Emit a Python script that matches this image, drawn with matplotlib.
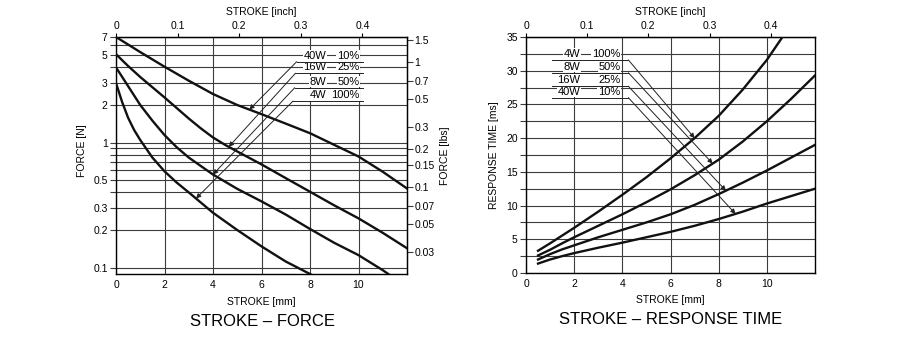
import numpy as np
import matplotlib.pyplot as plt
from matplotlib.ticker import NullFormatter, NullLocator

plt.rcParams['font.family'] = ['Liberation Sans', 'DejaVu Sans']

# ---- STROKE - FORCE data (force in N vs stroke in mm) ----
f40_mm = [0, 1, 2, 3, 4, 5, 6, 7, 8, 9, 10, 11, 12]
f40_n = [7.0, 5.3, 4.05, 3.13, 2.45, 2.0, 1.69, 1.42, 1.19, 0.96, 0.775, 0.585, 0.43]
f16_mm = [0, 0.5, 1, 2, 3, 3.5, 4, 4.5, 5, 6, 7, 8, 9, 10, 11, 12]
f16_n = [5.1, 4.1, 3.35, 2.3, 1.56, 1.30, 1.10, 0.96, 0.85, 0.67, 0.52, 0.405, 0.315, 0.248, 0.19, 0.143]
f8_mm = [0, 0.5, 1, 1.5, 2, 2.5, 3, 4, 5, 6, 7, 8, 9, 10, 11, 11.3]
f8_n = [4.0, 2.83, 2.0, 1.5, 1.15, 0.92, 0.76, 0.556, 0.427, 0.339, 0.266, 0.204, 0.158, 0.126, 0.0955, 0.087]
f4_mm = [0, 0.25, 0.5, 0.75, 1, 1.5, 2, 2.5, 3, 4, 5, 6, 7, 8, 8.3]
f4_n = [3.0, 2.12, 1.58, 1.26, 1.05, 0.76, 0.59, 0.48, 0.40, 0.275, 0.20, 0.148, 0.112, 0.089, 0.083]

force_power = ['40W', '16W', '8W', '4W']
force_duty = ['10%', '25%', '50%', '100%']
force_label_y = [4.44, 3.59, 2.75, 2.15]
force_lead_x0 = [7.45, 7.4, 7.37, 7.3]
force_arrow_x = [5.5, 4.65, 4.0, 3.3]

force_yticks = [0.1, 0.2, 0.3, 0.5, 1, 2, 3, 5, 7]
force_yticklabels = ['0.1', '0.2', '0.3', '0.5', '1', '2', '3', '5', '7']
force_minor = [0.1, 0.2, 0.3, 0.4, 0.5, 0.6, 0.7, 0.8, 0.9, 1, 2, 3, 4, 5, 6, 7]
lbs_ticks = [0.03, 0.05, 0.07, 0.1, 0.15, 0.2, 0.3, 0.5, 0.7, 1, 1.5]
lbs_labels = ['0.03', '0.05', '0.07', '0.1', '0.15', '0.2', '0.3', '0.5', '0.7', '1', '1.5']

# ---- STROKE - RESPONSE TIME data (ms vs mm) ----
rt4_mm = [0.5, 1, 2, 3, 4, 5, 6, 7, 8, 9, 10, 10.65]
rt4_ms = [3.3, 4.4, 6.7, 9.1, 11.6, 14.2, 17.0, 20.0, 23.3, 27.2, 31.6, 35.0]
rt_mm = [0.5, 1, 1.5, 2, 3, 4, 5, 6, 7, 8, 9, 10, 11, 12]
rt8_ms = [2.6, 3.45, 4.4, 5.3, 7.0, 8.7, 10.5, 12.4, 14.5, 16.8, 19.5, 22.5, 25.8, 29.3]
rt16_ms = [2.0, 2.8, 3.5, 4.1, 5.3, 6.4, 7.5, 8.7, 10.1, 11.7, 13.4, 15.2, 17.1, 19.0]
rt40_ms = [1.4, 2.0, 2.5, 2.95, 3.75, 4.5, 5.3, 6.1, 7.0, 8.0, 9.1, 10.3, 11.4, 12.5]

rt_power = ['4W', '8W', '16W', '40W']
rt_duty = ['100%', '50%', '25%', '10%']
rt_label_y = [31.6, 29.7, 27.7, 26.0]
rt_arrow_x = [7.0, 7.75, 8.3, 8.7]

inch_ticks = [0, 0.1, 0.2, 0.3, 0.4]
inch_labels = ['0', '0.1', '0.2', '0.3', '0.4']
mm_ticks = [0, 2, 4, 6, 8, 10]

GRID = '#3c3c3c'
INK = '#111111'
FS = 7.5


def mm2in(x):
    return np.asarray(x) / 25.4


def in2mm(x):
    return np.asarray(x) * 25.4


def style_axes(ax):
    ax.set_xlim(0, 12)
    ax.set_xticks(mm_ticks)
    ax.grid(axis='x', which='major', color=GRID, lw=0.8)
    ax.grid(axis='y', which='both', color=GRID, lw=0.8)
    ax.tick_params(axis='x', length=0, pad=4, labelsize=FS)
    ax.tick_params(axis='y', which='both', direction='out', length=4.5, width=0.8,
                   pad=1.5, labelsize=FS, color=GRID)
    for s in ax.spines.values():
        s.set_linewidth(1.0)
    ax.set_xlabel('STROKE [mm]', fontsize=FS)
    ax.xaxis.set_label_coords(0.5, -0.095)
    top = ax.secondary_xaxis('top', functions=(mm2in, in2mm))
    top.set_xticks(inch_ticks, labels=inch_labels)
    top.tick_params(direction='out', length=3, width=0.8, pad=1.5, labelsize=FS)
    top.set_xlabel('STROKE [inch]', fontsize=FS, labelpad=4)
    return top


def draw_label(ax, power, duty, x_pow, x_duty, y):
    box = dict(facecolor='white', edgecolor='none', pad=0.6)
    for txt, x in ((power, x_pow), (duty, x_duty)):
        ax.annotate(txt, xy=(x, y), xytext=(0, 2.2), textcoords='offset points',
                    ha='right', va='baseline', fontsize=8, bbox=box, zorder=4)


def draw_leader(ax, x0, x1, y0, tip):
    ax.plot([x0, x1], [y0, y0], color='#222222', lw=0.7, zorder=5)
    start = (x1, y0) if tip[0] > x1 else (x0, y0)
    ax.annotate('', xy=tip, xytext=start,
                arrowprops=dict(arrowstyle='-|>', color='#222222', lw=0.7,
                                mutation_scale=7, shrinkA=0, shrinkB=0), zorder=5)


fig = plt.figure(figsize=(9, 3.43), dpi=100)
ax1 = fig.add_axes([116 / 900, 1 - 274 / 343, 291 / 900, 237 / 343])
ax2 = fig.add_axes([526 / 900, 1 - 273 / 343, 289 / 900, 236 / 343])

# ---- left chart ----
ax1.set_yscale('log')
ax1.set_ylim(0.089, 7)
ax1.set_yticks(force_minor, minor=True)
ax1.set_yticks(force_yticks, labels=force_yticklabels)
ax1.yaxis.set_minor_formatter(NullFormatter())
style_axes(ax1)
ax1.set_ylabel('FORCE [N]', fontsize=FS)
ax1.yaxis.set_label_coords(-0.1, 0.52)

curves = [(f40_mm, f40_n), (f16_mm, f16_n), (f8_mm, f8_n), (f4_mm, f4_n)]
for xs, ys in curves:
    ax1.plot(xs, ys, color=INK, lw=1.7, zorder=3, solid_joinstyle='round')

for i, (xs, ys) in enumerate(curves):
    tip_x = force_arrow_x[i]
    tip_y = 10 ** np.interp(tip_x, xs, np.log10(ys))
    draw_leader(ax1, force_lead_x0[i], 10.2, force_label_y[i], (tip_x, tip_y))
    draw_label(ax1, force_power[i], force_duty[i], 8.68, 10.04, force_label_y[i])

lbs = ax1.secondary_yaxis('right', functions=(lambda f: np.asarray(f) / 4.448,
                                              lambda l: np.asarray(l) * 4.448))
lbs.set_yticks(lbs_ticks, labels=lbs_labels)
lbs.yaxis.set_minor_locator(NullLocator())
lbs.tick_params(direction='out', length=4, width=0.8, pad=1.5, labelsize=FS, color=GRID)
lbs.set_ylabel('FORCE [lbs]', fontsize=FS, labelpad=4)

# ---- right chart ----
ax2.set_ylim(0, 35)
ax2.set_yticks(np.arange(0, 36, 5))
ax2.set_yticks(np.arange(2.5, 35, 5), minor=True)
style_axes(ax2)
ax2.set_ylabel('RESPONSE TIME [ms]', fontsize=FS)
ax2.yaxis.set_label_coords(-0.095, 0.5)

rt_curves = [(rt4_mm, rt4_ms), (rt_mm, rt8_ms), (rt_mm, rt16_ms), (rt_mm, rt40_ms)]
for xs, ys in rt_curves:
    ax2.plot(xs, ys, color=INK, lw=1.7, zorder=3, solid_joinstyle='round')

for i, (xs, ys) in enumerate(rt_curves):
    tip_x = rt_arrow_x[i]
    tip_y = np.interp(tip_x, xs, ys)
    draw_leader(ax2, 1.1, 4.25, rt_label_y[i], (tip_x, tip_y))
    draw_label(ax2, rt_power[i], rt_duty[i], 2.25, 3.92, rt_label_y[i])

fig.text(262 / 900, 1 - 322 / 343, 'STROKE – FORCE', ha='center', va='center', fontsize=12)
fig.text(671 / 900, 1 - 320 / 343, 'STROKE – RESPONSE TIME', ha='center', va='center', fontsize=12)

fig.savefig('out.png', dpi=100)
